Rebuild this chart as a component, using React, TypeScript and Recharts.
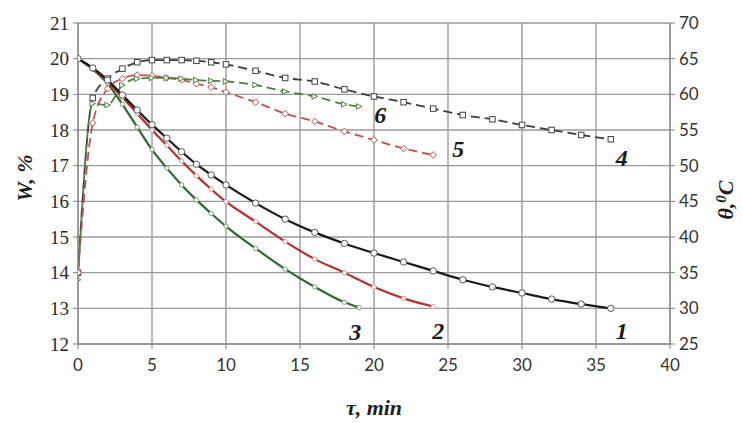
import React from 'react';
import { ComposedChart, Line, XAxis, YAxis, CartesianGrid, LabelList } from 'recharts';

// ---- data ----
const tauTicks = [0, 5, 10, 15, 20, 25, 30, 35, 40];
const wTicks = [12, 13, 14, 15, 16, 17, 18, 19, 20, 21];
const thetaTicks = [25, 30, 35, 40, 45, 50, 55, 60, 65, 70];

// Moisture W, % (left axis)
const tau1 = [0, 1, 2, 3, 4, 5, 6, 7, 8, 9, 10, 12, 14, 16, 18, 20, 22, 24, 26, 28, 30, 32, 34, 36];
const w1 = [20, 19.74, 19.4, 18.98, 18.56, 18.15, 17.77, 17.39, 17.04, 16.74, 16.46, 15.95, 15.5, 15.13, 14.82, 14.55, 14.3, 14.05, 13.8, 13.6, 13.43, 13.26, 13.12, 13.0];

const tau2 = [0, 1, 2, 3, 4, 5, 6, 7, 8, 9, 10, 12, 14, 16, 18, 20, 22, 24];
const w2 = [20, 19.72, 19.35, 18.92, 18.46, 18.0, 17.57, 17.13, 16.72, 16.34, 15.99, 15.43, 14.87, 14.38, 14.0, 13.6, 13.28, 13.05];

const tau3 = [0, 1, 2, 3, 4, 5, 6, 7, 8, 9, 10, 12, 14, 16, 18, 19];
const w3 = [20, 19.7, 19.3, 18.72, 18.08, 17.45, 16.93, 16.46, 16.04, 15.66, 15.3, 14.68, 14.1, 13.6, 13.17, 13.02];

// Temperature θ, °C (right axis)
const tau4 = [0, 1, 2, 3, 4, 5, 6, 7, 8, 9, 10, 12, 14, 16, 18, 20, 22, 24, 26, 28, 30, 32, 34, 36];
const th4 = [35, 59.5, 62.2, 63.6, 64.5, 64.8, 64.8, 64.8, 64.7, 64.5, 64.2, 63.3, 62.3, 61.8, 60.7, 59.7, 58.9, 58.0, 57.1, 56.5, 55.7, 55.0, 54.3, 53.7];

const tau5 = [0, 1, 2, 3, 4, 5, 6, 7, 8, 9, 10, 12, 14, 16, 18, 20, 22, 24];
const th5 = [35, 56, 60.8, 62.2, 62.7, 62.6, 62.3, 62.0, 61.5, 61.0, 60.3, 58.9, 57.3, 56.2, 54.8, 53.6, 52.4, 51.5];

const tau6 = [0, 1, 2, 3, 4, 5, 6, 7, 8, 9, 10, 12, 14, 16, 18, 19];
const th6 = [34, 58.7, 58.5, 61.3, 62.2, 62.3, 62.3, 62.2, 62.0, 61.9, 61.8, 61.3, 60.4, 59.7, 58.6, 58.3];

const curveNames = ['1', '2', '3', '4', '5', '6'];

// ---- helpers ----
const rows = (ts: number[], vs: number[]) => ts.map((t, i) => ({ t, v: vs[i] }));

const d1 = rows(tau1, w1);
const d2 = rows(tau2, w2);
const d3 = rows(tau3, w3);
const d4 = rows(tau4, th4);
const d5 = rows(tau5, th5);
const d6 = rows(tau6, th6);

const circleDot = (r: number, stroke: string) => (p: any) => (
  <circle key={`c-${p.index}`} cx={p.cx} cy={p.cy} r={r} fill="#fff" stroke={stroke} strokeWidth={1} />
);
const squareDot = (s: number, stroke: string) => (p: any) => (
  <rect key={`s-${p.index}`} x={p.cx - s / 2} y={p.cy - s / 2} width={s} height={s} fill="#fff" stroke={stroke} strokeWidth={1} />
);
const diamondDot = (s: number, stroke: string) => (p: any) => (
  <polygon key={`d-${p.index}`} points={`${p.cx},${p.cy - s} ${p.cx + s},${p.cy} ${p.cx},${p.cy + s} ${p.cx - s},${p.cy}`} fill="#fff" stroke={stroke} strokeWidth={1} />
);
const triDot = (s: number, stroke: string) => (p: any) => (
  <polygon key={`t-${p.index}`} points={`${p.cx - s},${p.cy - s} ${p.cx + s},${p.cy} ${p.cx - s},${p.cy + s}`} fill="#fff" stroke={stroke} strokeWidth={1} />
);

const endLabel = (name: string, last: number, dx: number, dy: number) => (p: any) => {
  if (p.index !== last) return null;
  const x = p.x ?? p.viewBox?.x;
  const y = p.y ?? p.viewBox?.y;
  return (
    <text x={x + dx} y={y + dy} textAnchor="middle" dominantBaseline="central"
      fontFamily="Liberation Serif" fontStyle="italic" fontWeight="bold" fontSize={24} fill="#1a1a1a">
      {name}
    </text>
  );
};

const sansTick = { fontFamily: 'Lato', fontSize: 17, fill: '#333' };
const serifTick = { fontFamily: 'Liberation Serif', fontSize: 19, fill: '#2a2a2a' };
const titleStyle: any = { fontFamily: 'Liberation Serif', fontStyle: 'italic', fontWeight: 'bold', fontSize: 22, fill: '#1e1e1e' };

export default function App() {
  return (
    <div style={{ position: 'absolute', left: 0, top: 0, width: 743, height: 423, background: '#fff' }}>
      <ComposedChart width={743} height={423} margin={{ top: 23, right: 0, bottom: 39, left: 0 }}>
        <CartesianGrid yAxisId="left" stroke="#9a9a9a" strokeWidth={1.4} />
        <XAxis type="number" dataKey="t" domain={[0, 40]} ticks={tauTicks} height={40}
          tick={sansTick} tickSize={5} tickMargin={10} stroke="#808080" allowDataOverflow
          label={(p: any) => {
            const vb = p.viewBox;
            return (
              <text x={vb.x + vb.width / 2} y={415} textAnchor="middle" style={titleStyle}>τ, min</text>
            );
          }} />
        <YAxis yAxisId="left" orientation="left" domain={[12, 21]} ticks={wTicks} width={78}
          tick={serifTick} tickSize={5} tickMargin={4} stroke="#808080" allowDataOverflow
          label={() => (
            <text x={32} y={178} textAnchor="middle" transform="rotate(-90 32 178)" style={titleStyle}>W, %</text>
          )} />
        <YAxis yAxisId="right" orientation="right" domain={[25, 70]} ticks={thetaTicks} width={73}
          tick={sansTick} tickSize={5} tickMargin={4} stroke="#808080" allowDataOverflow
          label={() => (
            <text x={733} y={200} textAnchor="middle" transform="rotate(-90 733 200)" style={titleStyle}>
              θ,<tspan fontSize={15} dy={-7}>0</tspan><tspan dy={7}>C</tspan>
            </text>
          )} />

        {/* temperature curves (dashed) */}
        <Line yAxisId="right" data={d4} dataKey="v" type="monotone" stroke="#3c3c3c" strokeWidth={1.8}
          strokeDasharray="9 5" dot={squareDot(5.5, '#444')} isAnimationActive={false}>
          <LabelList dataKey="v" content={endLabel(curveNames[3], d4.length - 1, 11, 19)} />
        </Line>
        <Line yAxisId="right" data={d5} dataKey="v" type="monotone" stroke="#c0504d" strokeWidth={1.8}
          strokeDasharray="9 5" dot={diamondDot(3.3, '#c0504d')} isAnimationActive={false}>
          <LabelList dataKey="v" content={endLabel(curveNames[4], d5.length - 1, 25, -6)} />
        </Line>
        <Line yAxisId="right" data={d6} dataKey="v" type="monotone" stroke="#4e7d3e" strokeWidth={1.8}
          strokeDasharray="9 5" dot={triDot(2.8, '#4e7d3e')} isAnimationActive={false}>
          <LabelList dataKey="v" content={endLabel(curveNames[5], d6.length - 1, 21, 9)} />
        </Line>

        {/* moisture curves (solid) */}
        <Line yAxisId="left" data={d3} dataKey="v" type="monotone" stroke="#2f6a30" strokeWidth={2.2}
          dot={circleDot(2.2, '#7aa07a')} isAnimationActive={false}>
          <LabelList dataKey="v" content={endLabel(curveNames[2], d3.length - 1, -4, 24)} />
        </Line>
        <Line yAxisId="left" data={d2} dataKey="v" type="monotone" stroke="#b3302e" strokeWidth={2.2}
          dot={circleDot(2.2, '#e39a98')} isAnimationActive={false}>
          <LabelList dataKey="v" content={endLabel(curveNames[1], d2.length - 1, 5, 24)} />
        </Line>
        <Line yAxisId="left" data={d1} dataKey="v" type="monotone" stroke="#1a1a1a" strokeWidth={2.2}
          dot={circleDot(3.2, '#555')} isAnimationActive={false}>
          <LabelList dataKey="v" content={endLabel(curveNames[0], d1.length - 1, 11, 23)} />
        </Line>
      </ComposedChart>
    </div>
  );
}
